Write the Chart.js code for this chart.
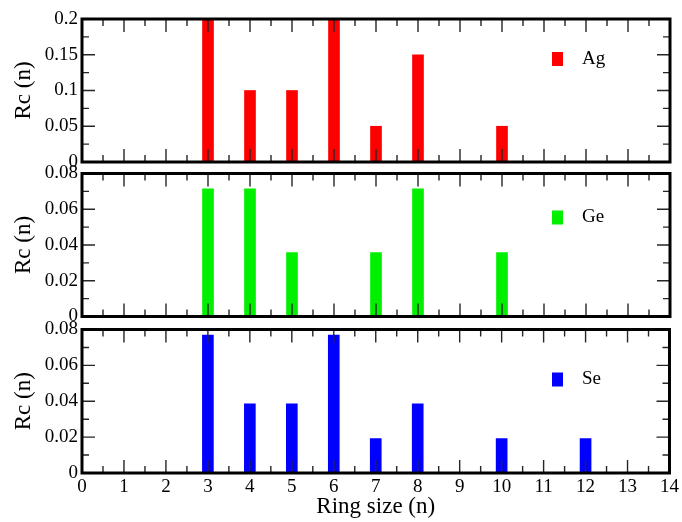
<!DOCTYPE html>
<html>
<head>
<meta charset="utf-8">
<title>Ring statistics</title>
<script src="https://cdn.jsdelivr.net/npm/chart.js@4.4.1/dist/chart.umd.min.js"></script>
<style>
  html, body { margin: 0; padding: 0; background: #ffffff; }
  #wrap { position: relative; width: 682px; height: 522px; }
  #wrap canvas { position: absolute; left: 0; top: 0; }
</style>
</head>
<body>
<div id="wrap">
  <canvas id="panelAg" width="682" height="522"></canvas>
  <canvas id="panelGe" width="682" height="522"></canvas>
  <canvas id="panelSe" width="682" height="522"></canvas>
</div>
<script>
// Ring-size distributions Rc(n) per element
const agRings = [3, 4, 5, 6, 7, 8, 10];
const agRc    = [0.2, 0.1, 0.1, 0.2, 0.05, 0.15, 0.05];

const geRings = [3, 4, 5, 7, 8, 10];
const geRc    = [0.0714, 0.0714, 0.0357, 0.0357, 0.0714, 0.0357];

const seRings = [3, 4, 5, 6, 7, 8, 10, 12];
const seRc    = [0.0769, 0.0385, 0.0385, 0.0769, 0.0192, 0.0385, 0.0192, 0.0192];

// Axis ticks
const xTicks     = [0, 1, 2, 3, 4, 5, 6, 7, 8, 9, 10, 11, 12, 13, 14];
const yTicksAg   = [0, 0.05, 0.1, 0.15, 0.2];
const yTicksGeSe = [0, 0.02, 0.04, 0.06, 0.08];

const SERIF = "'Liberation Serif', 'Times New Roman', serif";
Chart.defaults.font.family = SERIF;
Chart.defaults.color = '#000';

// Draws the boxed frame, inward major/minor ticks on all four sides, and the inset legend entry
const frameTicks = {
  id: 'frameTicks',
  afterDatasetsDraw(chart, args, opts) {
    const { ctx, chartArea: a, scales: { x, y } } = chart;
    const major = 13, minor = 7;
    ctx.save();
    ctx.strokeStyle = '#262626';
    ctx.lineWidth = 1.4;
    ctx.beginPath();
    const xs = opts.xTicks, ys = opts.yTicks;
    const xMajor = xs.map(v => x.getPixelForValue(v));
    const xMinor = xs.slice(1).map((v, i) => x.getPixelForValue((v + xs[i]) / 2));
    const yMajor = ys.map(v => y.getPixelForValue(v));
    const yMinor = ys.slice(1).map((v, i) => y.getPixelForValue((v + ys[i]) / 2));
    const vTick = (px, len) => {
      ctx.moveTo(px, a.bottom); ctx.lineTo(px, a.bottom - len);
      ctx.moveTo(px, a.top);    ctx.lineTo(px, a.top + len);
    };
    const hTick = (py, len) => {
      ctx.moveTo(a.left, py);  ctx.lineTo(a.left + len, py);
      ctx.moveTo(a.right, py); ctx.lineTo(a.right - len, py);
    };
    xMajor.forEach(p => vTick(p, major));
    xMinor.forEach(p => vTick(p, minor));
    yMajor.forEach(p => hTick(p, major));
    yMinor.forEach(p => hTick(p, minor));
    ctx.stroke();

    // frame
    ctx.strokeStyle = '#000';
    ctx.lineWidth = 3;
    ctx.strokeRect(a.left, a.top, a.right - a.left, a.bottom - a.top);

    // legend entry
    const ds = chart.data.datasets[0];
    const ly = a.top + opts.legendOffset;
    ctx.fillStyle = ds.backgroundColor;
    ctx.fillRect(552, ly - 7, 11, 14);
    ctx.fillStyle = '#000';
    ctx.font = '19px ' + SERIF;
    ctx.textAlign = 'left';
    ctx.textBaseline = 'middle';
    ctx.fillText(ds.label, 582, ly);
    ctx.restore();
  }
};

function makePanel(id, label, color, rings, values, yMax, yTicks, area, showX, legendOffset) {
  const xScale = {
    type: 'linear', min: 0, max: 14, offset: false,
    afterBuildTicks: s => { s.ticks = xTicks.map(v => ({ value: v })); },
    grid: { display: false, drawTicks: false, offset: false },
    border: { display: false }
  };
  if (showX) {
    Object.assign(xScale, {
      display: true,
      afterFit: s => { s.height = 49; },
      ticks: { font: { size: 19 }, color: '#000', padding: 3, autoSkip: false, maxRotation: 0,
               callback: v => String(v) },
      title: { display: true, text: 'Ring size (n)', font: { size: 23 }, color: '#000',
               padding: { top: 0, bottom: 1 } }
    });
  } else {
    xScale.display = false;
  }

  return new Chart(document.getElementById(id), {
    type: 'bar',
    data: {
      datasets: [{
        label: label,
        data: rings.map((r, i) => ({ x: r, y: values[i] })),
        backgroundColor: color,
        borderWidth: 0,
        barThickness: 11
      }]
    },
    options: {
      responsive: false,
      maintainAspectRatio: false,
      animation: false,
      events: [],
      layout: { padding: { left: 0, right: 12, top: area.top, bottom: area.bottom } },
      scales: {
        x: xScale,
        y: {
          min: 0, max: yMax,
          afterFit: s => { s.width = 82; },
          afterBuildTicks: s => { s.ticks = yTicks.map(v => ({ value: v })); },
          grid: { display: false, drawTicks: false },
          border: { display: false },
          ticks: { font: { size: 19 }, color: '#000', padding: 4, autoSkip: false,
                   callback: v => String(v) },
          title: { display: true, text: 'Rc (n)', font: { size: 23 }, color: '#000',
                   padding: { top: 10, bottom: 0 } }
        }
      },
      plugins: {
        legend: { display: false },
        tooltip: { enabled: false },
        frameTicks: { xTicks: xTicks, yTicks: yTicks, legendOffset: legendOffset }
      }
    },
    plugins: [frameTicks]
  });
}

makePanel('panelAg', 'Ag', '#ff0000', agRings, agRc, 0.2,  yTicksAg,   { top: 19,    bottom: 360 },   false, 40);
makePanel('panelGe', 'Ge', '#00f000', geRings, geRc, 0.08, yTicksGeSe, { top: 173.5, bottom: 205.5 }, false, 44);
makePanel('panelSe', 'Se', '#0000ff', seRings, seRc, 0.08, yTicksGeSe, { top: 329.5, bottom: 0 },     true,  50);
</script>
</body>
</html>
